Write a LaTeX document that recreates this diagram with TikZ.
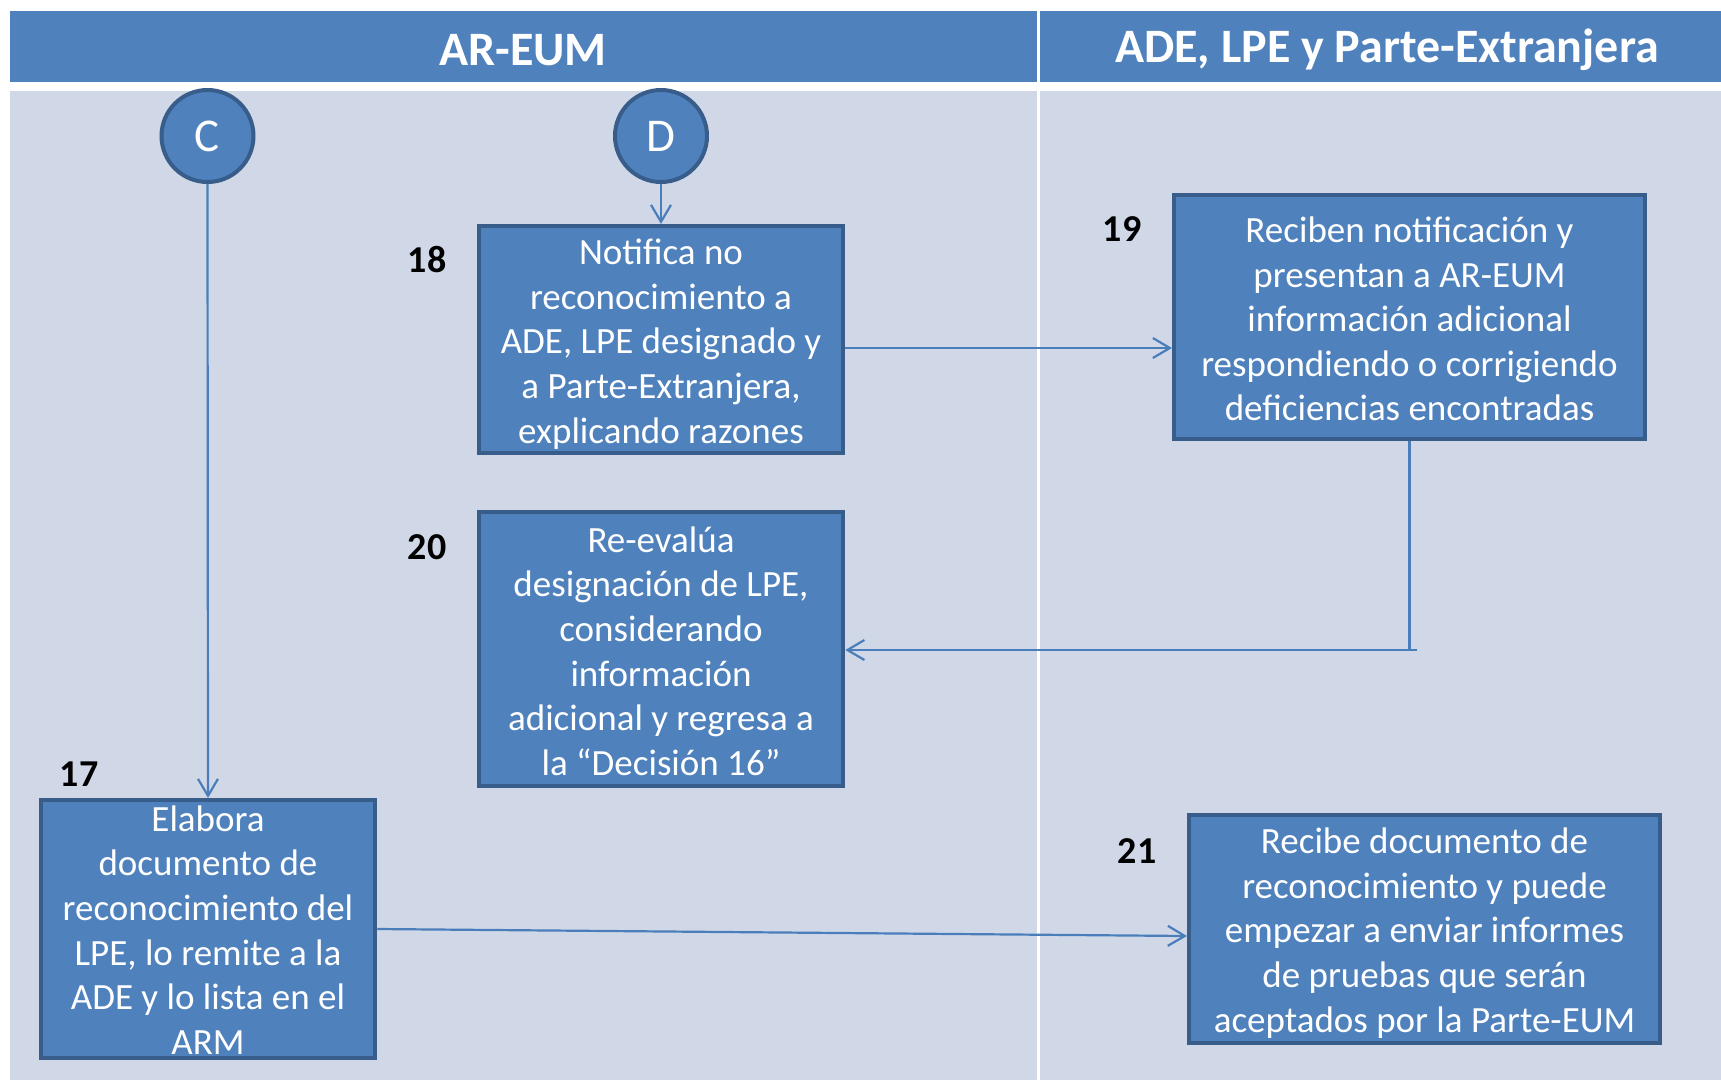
\documentclass[tikz,border=0pt]{standalone}
\usepackage{fontspec}
\setmainfont{Carlito}
\usetikzlibrary{arrows.meta}
\definecolor{hdr}{HTML}{4F81BD}
\definecolor{bgc}{HTML}{D0D8E8}
\definecolor{bord}{HTML}{385D8A}
\definecolor{connc}{HTML}{4A7EBB}
\begin{document}
\begin{tikzpicture}[x=1pt,y=-1pt,
  box/.style={draw=bord, line width=4pt, fill=hdr, rectangle, inner sep=0pt},
  boxtext/.style={text=white, align=center, font=\fontsize{37}{44.6}\selectfont, inner sep=0pt},
  num/.style={font=\bfseries\fontsize{38}{44}\selectfont, text=black, inner sep=0pt},
  circ/.style={circle, draw=bord, line width=4pt, fill=hdr, minimum size=92pt, inner sep=0pt, text=white, font=\fontsize{47}{52}\selectfont},
  hdrtext/.style={text=white, font=\bfseries\fontsize{48}{54}\selectfont, inner sep=0pt},
  connline/.style={draw=connc, line width=2.2pt},
  conn/.style={connline, -{Straight Barb[length=17pt,width=20pt,line width=2.2pt]}}
]
\useasboundingbox (0,0) rectangle (1721,1080);
\fill[white] (0,0) rectangle (1721,1080);
% header
\fill[hdr] (10,11) rectangle (1037,82);
\fill[hdr] (1040,11) rectangle (1721,82);
\node[hdrtext] (h1) at (523,50) {AR-EUM};
\node[hdrtext] (h2) at (1387,50) {ADE, LPE y Parte-Extranjera};
% body
\fill[bgc] (10,91) rectangle (1721,1080);
\fill[white] (1037,91) rectangle (1040,1080);
% circles
\node[circ] (c) at (207.5,136) {C};
\node[circ] (d) at (661,136) {D};
% boxes
\node[box, minimum width=364.5pt, minimum height=227pt] (b18) at (661,339.5) {};
\node[box, minimum width=471pt, minimum height=244pt] (b19) at (1409.5,317) {};
\node[box, minimum width=364.5pt, minimum height=273.5pt] (b20) at (661,649) {};
\node[box, minimum width=334.5pt, minimum height=258pt] (b17) at (208,929) {};
\node[box, minimum width=471pt, minimum height=227.5pt] (b21) at (1424.5,929) {};
% connectors
\draw[conn] (d.south) -- (b18.north);
\draw[conn] (c.south) -- (b17.north);
\draw[conn] ([yshift=-8.5pt]b18.east) -- ([yshift=-8.5pt]b18.east -| b19.west);
\coordinate (j) at (1417,650);
\draw[connline] (b19.south) -- (b19.south |- j) -- (j);
\draw[conn] (j) -- (j -| b20.east);
\draw[conn] (b17.east) -- ([yshift=-7pt]b21.west);
% texts
\node[boxtext] (t18) at (661,344) {Notifica no\\reconocimiento a\\ADE, LPE designado y\\a Parte-Extranjera,\\explicando razones};
\node[boxtext] (t19) at (1409.5,319) {Reciben notificación y\\presentan a AR-EUM\\información adicional\\respondiendo o corrigiendo\\deficiencias encontradas};
\node[boxtext] (t20) at (661,651) {Re-evalúa\\designación de LPE,\\considerando\\información\\adicional y regresa a\\la “Decisión 16”};
\node[boxtext] (t17) at (208,930) {Elabora\\documento de\\reconocimiento del\\LPE, lo remite a la\\ADE y lo lista en el\\ARM};
\node[boxtext] (t21) at (1424.5,933) {Recibe documento de\\reconocimiento y puede\\empezar a enviar informes\\de pruebas que serán\\aceptados por la Parte-EUM};
% numbers
\node[num] (n18) at (427,260) {18};
\node[num] (n19) at (1122,229) {19};
\node[num] (n20) at (427,547) {20};
\node[num] (n17) at (79,774) {17};
\node[num] (n21) at (1137,851) {21};
\end{tikzpicture}
\end{document}
